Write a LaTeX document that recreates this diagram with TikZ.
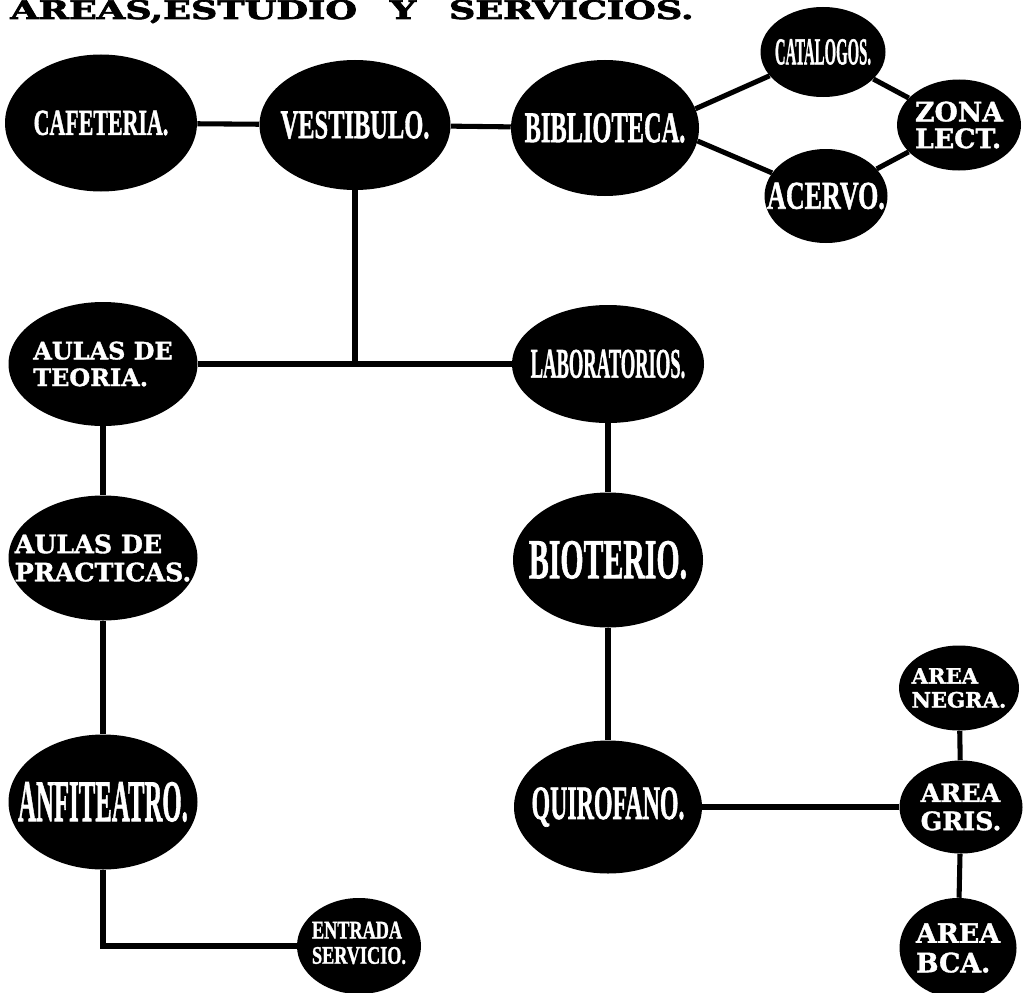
\documentclass[tikz,border=0pt]{standalone}
\usepackage{fontspec}
\usepackage{graphicx}
\usetikzlibrary{shapes.geometric}
\newfontfamily\condfont[FakeBold=1.5]{Liberation Serif Bold}
\newfontfamily\slabfont[FakeBold=1.5]{DejaVu Serif Bold}
\newfontfamily\titlefont[FakeBold=2.5]{DejaVu Serif Bold}
\newcommand{\squeeze}[2]{\scalebox{#1}[1]{#2}}

\begin{document}
\begin{tikzpicture}[x=0.025cm, y=-0.025cm,
        area/.style={ellipse, fill=black, inner sep=0pt},
        dims/.style 2 args={minimum width=#1*0.025cm, minimum height=#2*0.025cm},
        cond/.style={text=white, inner sep=0pt, font=\condfont\fontsize{#1}{#1}\selectfont},
        slab/.style 2 args={text=white, inner sep=0pt, align=left, font=\slabfont\fontsize{#1}{#2}\selectfont},
        link/.style={line width=3.6pt},]

        \useasboundingbox (0,0) rectangle (1024,992);

        % Title
        \node[anchor=base west, inner sep=0pt, font=\titlefont\fontsize{26}{26}\selectfont] (title) at (10,19)
            {\scalebox{1}[0.7]{AREAS,ESTUDIO\hspace{0.9em}Y\hspace{0.9em}SERVICIOS.}};

        % Areas
        \node[area, dims={192}{137}, label={[cond=26]center:\squeeze{0.6}{CAFETERIA.}}] (caf) at (101,123) {};
        \node[area, dims={191}{130}, label={[cond=29]center:\squeeze{0.6}{VESTIBULO.}}] (vest) at (355,125) {};
        \node[area, dims={188}{136}, label={[cond=31]center:\squeeze{0.56}{BIBLIOTECA.}}] (bib) at (605,128) {};
        \node[area, dims={125}{90}, label={[cond=27]center:\squeeze{0.39}{CATALOGOS.}}] (cat) at (823,52) {};
        \node[area, dims={124}{91}, label={[slab={19}{19}]center:ZONA\\LECT.}] (zona) at (959,125) {};
        \node[area, dims={123}{94}, label={[cond=28]center:\squeeze{0.66}{ACERVO.}}] (acer) at (826,196) {};

        \node[area, dims={189}{124}, label={[slab={17}{19}]center:AULAS DE\\TEORIA.}] (teo) at (103,364) {};
        \node[area, dims={192}{118}, label={[cond=30]center:\squeeze{0.44}{LABORATORIOS.}}] (lab) at (608,364) {};
        \node[area, dims={189}{125}, label={[slab={18}{20}]center:AULAS DE\\PRACTICAS.}] (prac) at (103,558) {};
        \node[area, dims={190}{135}, label={[cond=40]center:\squeeze{0.53}{BIOTERIO.}}] (bio) at (608,560) {};
        \node[area, dims={189}{135}, label={[cond=42]center:\squeeze{0.42}{ANFITEATRO.}}] (anf) at (103,802) {};
        \node[area, dims={188}{133}, label={[cond=34]center:\squeeze{0.50}{QUIROFANO.}}] (quir) at (608,807) {};
        \node[area, dims={124}{96}, label={[cond=18]center:\squeeze{0.72}{\begin{tabular}{@{}l@{}}ENTRADA\\SERVICIO.\end{tabular}}}] (ent) at (359,946) {};

        \node[area, dims={120}{85}, label={[slab={15}{17}]center:AREA\\NEGRA.}] (negra) at (959,688) {};
        \node[area, dims={123}{93}, label={[slab={18}{20}]center:AREA\\GRIS.}] (gris) at (961,807) {};
        \node[area, dims={117}{100}, label={[slab={19}{21}]center:AREA\\BCA.}] (bca) at (958,948) {};

        %Links
        \coordinate (hub) at (355,364);
        \draw[link] (caf) -- (vest);
        \draw[link] (vest) -- (bib);
        \draw[link] (bib.12) -- (cat);
        \draw[link] (bib.-8) -- (acer);
        \draw[link] (cat) -- (zona);
        \draw[link] (acer) -- (zona);
        \draw[link] (vest) -- (hub);
        \draw[link] (teo) -- (lab);
        \draw[link] (teo) -- (prac);
        \draw[link] (prac) -- (anf);
        \draw[link] (anf) |- (ent);
        \draw[link] (lab) -- (bio);
        \draw[link] (bio) -- (quir);
        \draw[link] (quir) -- (gris);
        \draw[link] (negra) -- (gris);
        \draw[link] (gris) -- (bca);
\end{tikzpicture}
\end{document}
